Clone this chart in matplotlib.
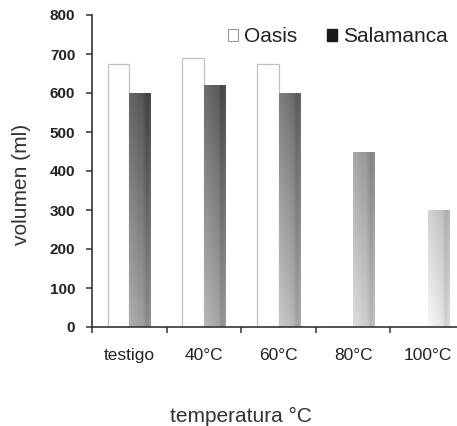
import numpy as np
import matplotlib
matplotlib.use("Agg")
import matplotlib.pyplot as plt
from matplotlib.patches import Patch

plt.rcParams['font.family'] = ['Liberation Sans', 'DejaVu Sans']

categories = ["testigo", "40°C", "60°C", "80°C", "100°C"]
oasis = [675, 690, 675, 0, 0]
salamanca = [600, 620, 600, 450, 300]
yticks = [0, 100, 200, 300, 400, 500, 600, 700, 800]

fig = plt.figure(figsize=(4.57, 4.26), dpi=100)
ax = fig.add_axes([92 / 457, 1 - 327 / 426, (465 - 92) / 457, 312 / 426])

x = np.arange(len(categories))
w = 0.29

bars_o = ax.bar(x - w / 2, oasis, w, color="white", edgecolor="#c2c2c2",
                linewidth=0.9, zorder=2)
bars_s = ax.bar(x + w / 2, salamanca, w, color="none", edgecolor="none",
                zorder=2)

# shaded fill for the Salamanca bars: darker near the top, lighter to the right
def shade(xc, y0, y1, nx=40, ny=120):
    ys = np.linspace(y0, y1, ny)[:, None]
    hs = np.linspace(0, 1, nx)[None, :]
    g = 0.62 - 0.29 * (ys / 600.0) + 0.035 * xc ** 1.5
    g = g + 0.07 * (1 - hs) - 0.04 * hs - 0.06 * np.exp(-((hs - 0.82) / 0.1) ** 2)
    return np.clip(g, 0, 1)

for i, r in enumerate(bars_s):
    bx, by = r.get_x(), r.get_y()
    bw, bh = r.get_width(), r.get_height()
    if bh <= 0:
        continue
    img = ax.imshow(shade(i, by, by + bh), extent=[bx, bx + bw, by, by + bh],
                    origin="lower", aspect="auto", cmap="gray", vmin=0, vmax=1,
                    interpolation="bicubic", zorder=2.5)
    img.set_clip_path(r)

ax.set_xlim(-0.5, 4.5)
ax.set_ylim(0, 800)
ax.set_aspect("auto")

for s in ("top", "right"):
    ax.spines[s].set_visible(False)
for s in ("left", "bottom"):
    ax.spines[s].set_color("#333333")
    ax.spines[s].set_linewidth(1.2)

ax.set_yticks(yticks)
ax.set_yticklabels([str(v) for v in yticks], fontsize=11, fontweight="bold",
                   color="#222222")
ax.tick_params(axis="y", direction="out", length=4, width=1.1, pad=8,
               color="#333333")

ax.set_xticks(x)
ax.set_xticklabels(categories, fontsize=12.5, color="#222222")
ax.set_xticks(np.arange(-0.5, 4.6, 1.0), minor=True)
ax.tick_params(axis="x", which="major", length=0, pad=15)
ax.tick_params(axis="x", which="minor", direction="out", length=4, width=1.1,
               color="#333333")

fig.text(22 / 457, 1 - 184 / 426, "volumen (ml)", rotation=90, fontsize=15,
         ha="center", va="center", color="#333333")
fig.text(241 / 457, 1 - 416 / 426, "temperatura °C", fontsize=15,
         ha="center", va="center", color="#333333")

handles = [Patch(facecolor="white", edgecolor="#9a9a9a", linewidth=0.8),
           Patch(facecolor="#1a1a1a", edgecolor="#1a1a1a")]
fig.legend(handles, ["Oasis", "Salamanca"], loc="center",
           bbox_to_anchor=(338 / 457, 1 - 37 / 426), ncol=2, frameon=False,
           fontsize=15, handlelength=0.5, handleheight=0.5, handletextpad=0.3,
           columnspacing=1.4, labelcolor="#222222")

fig.savefig("out.png", dpi=100)
